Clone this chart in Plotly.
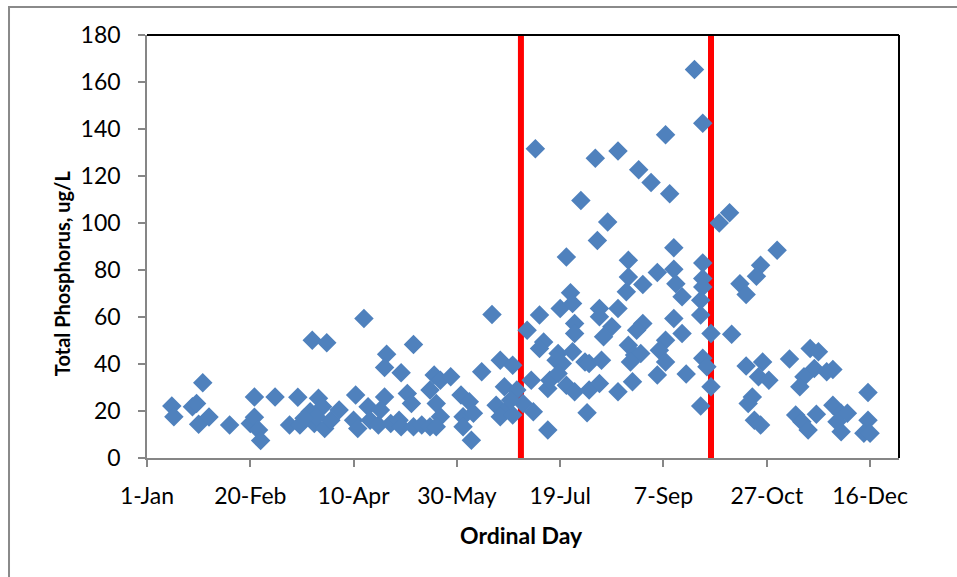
import plotly.graph_objects as go

# Sampling day of year (1 = 1-Jan) and total phosphorus (ug/L)
day = [
    13, 14, 28, 23, 25, 26, 31, 41, 51, 53, 55, 56, 53, 63, 70, 74, 75, 81, 88,
    84, 80, 86, 82, 87, 90, 83, 77, 94,
    106, 168, 130, 117, 116, 124, 102, 101, 103, 108, 109, 113, 116, 114, 119,
    123, 124, 127, 129, 130, 134, 138, 140, 138, 143, 148, 141, 143, 141, 153,
    157, 154, 159, 154, 158, 163, 172, 178, 174, 170, 175, 172, 178, 180, 183, 185,
    204, 219, 224, 256, 234, 270, 248, 256, 234, 241, 233, 257, 260, 270, 270,
    269, 269, 206, 201, 207, 191, 208, 208, 220, 229, 220, 226, 222, 241, 238,
    256, 260, 274, 193, 191, 252, 249, 234, 237, 240, 200, 207, 199, 202, 213,
    215, 221, 235, 252, 248, 262, 270, 272, 274, 269, 187, 195, 196, 200, 204,
    208, 215, 220, 229, 236, 214, 195, 188, 177,
    189, 218, 229, 211, 239, 245, 254, 252, 266, 270, 278,
    283, 306, 298, 296, 288, 291, 284, 291, 299, 297, 302, 294, 292, 295, 298,
    312, 322, 326, 324, 319, 317, 333, 330, 350, 315, 318, 321, 325, 333, 337,
    340, 337, 335, 350, 348, 351,
]
phosphorus = [
    22.1, 17.6, 32.0, 21.8, 23.2, 14.4, 17.4, 14.0, 14.7, 17.3, 11.9, 7.4, 26.0,
    26.0, 14.0, 25.8, 14.0, 50.1, 49.0,
    25.4, 19.7, 21.8, 14.7, 12.6, 16.1, 17.6, 16.9, 20.4,
    59.4, 61.1, 48.3, 44.2, 38.5, 36.3, 26.8, 16.1, 12.6, 21.8, 16.1, 14.0, 26.0,
    20.4, 14.7, 16.1, 13.3, 27.5, 23.2, 13.3, 14.0, 13.3, 35.3, 28.9, 33.1, 34.6,
    23.2, 17.6, 13.3, 26.8, 23.9, 17.6, 19.0, 13.3, 7.6, 36.7, 41.6, 39.5, 30.3,
    22.5, 20.4, 17.6, 18.3, 28.9, 23.2, 54.4,
    85.5, 92.6, 100.4, 89.5, 84.1, 83.0, 78.9, 80.3, 77.0, 73.8, 70.7, 74.2,
    68.6, 76.4, 72.8, 67.1, 60.8, 70.3, 63.6, 65.7, 60.8, 57.2, 53.0, 63.6, 63.6,
    60.1, 55.8, 51.6, 57.2, 54.4, 59.4, 53.0, 53.0, 49.4, 46.6, 50.1, 45.9, 48.0,
    43.8, 44.5, 44.5, 45.2, 41.6, 40.2, 40.9, 40.2, 41.6, 40.9, 40.9, 35.3, 35.7,
    42.4, 38.8, 30.3, 22.1, 33.1, 29.6, 33.1, 36.0, 31.0, 28.2, 28.9, 31.7, 28.2,
    32.4, 19.3, 11.9, 19.7, 24.6,
    131.6, 127.6, 130.6, 109.6, 122.7, 117.2, 112.5, 137.6, 165.3, 142.5, 100.0,
    104.4, 88.4, 82.0, 77.3, 74.2, 69.6, 52.7, 39.1, 40.9, 34.6, 33.1, 26.0, 23.2,
    16.1, 14.0, 42.1, 46.6, 45.2, 38.1, 34.6, 30.3, 37.7, 36.7, 27.9, 18.3, 15.4,
    11.9, 18.6, 22.5, 19.0, 19.0, 11.2, 15.4, 16.1, 10.5, 10.5,
]

# Boundaries of the summer window (day of year)
season_bounds = [182, 274]

tick_days = [1, 51, 101, 151, 201, 251, 301, 351]
tick_labels = ["1-Jan", "20-Feb", "10-Apr", "30-May", "19-Jul", "7-Sep", "27-Oct", "16-Dec"]

fig = go.Figure()

for b in season_bounds:
    fig.add_trace(go.Scatter(
        x=[b, b], y=[0, 180], mode="lines",
        line=dict(color="#FF0000", width=6),
        hoverinfo="skip", showlegend=False,
    ))

fig.add_trace(go.Scatter(
    x=day, y=phosphorus, mode="markers",
    marker=dict(symbol="diamond", size=15, color="#4F81BD", line=dict(width=0)),
    showlegend=False,
))

axis_grey = "#868686"
font_family = "Lato, Carlito, Calibri, sans-serif"
tick_font = dict(family=font_family, size=23, color="#000000")

fig.update_layout(
    width=957, height=577,
    margin=dict(l=147, r=58, t=35, b=119),
    paper_bgcolor="white", plot_bgcolor="white",
    xaxis=dict(
        range=[1, 365], tickmode="array", tickvals=tick_days, ticktext=tick_labels,
        showgrid=False, zeroline=False, showline=True, linecolor=axis_grey, linewidth=1.5,
        ticks="outside", ticklen=7, tickcolor=axis_grey, tickwidth=1.5,
        tickfont=tick_font, ticklabelstandoff=10,
    ),
    yaxis=dict(
        range=[0, 180], dtick=20,
        showgrid=False, zeroline=False, showline=True, linecolor=axis_grey, linewidth=1.5,
        ticks="outside", ticklen=7, tickcolor=axis_grey, tickwidth=1.5,
        tickfont=tick_font, ticklabelstandoff=13,
    ),
    annotations=[
        dict(text="<b>Ordinal Day</b>", xref="paper", yref="paper",
             x=0.4986, y=-0.182, xanchor="center", yanchor="middle", showarrow=False,
             font=dict(family=font_family, size=23, color="#000000")),
        dict(text="<b>Total Phosphorus, ug/L</b>", xref="paper", yref="paper",
             x=-0.113, y=0.437, xanchor="center", yanchor="middle", showarrow=False,
             textangle=-90, font=dict(family=font_family, size=20, color="#000000")),
    ],
    shapes=[
        # plot-area frame on the top and right
        dict(type="line", xref="paper", yref="paper", x0=0, x1=1, y0=1, y1=1,
             line=dict(color="#000000", width=2)),
        dict(type="line", xref="paper", yref="paper", x0=1, x1=1, y0=0, y1=1,
             line=dict(color="#000000", width=2)),
        # chart-area border
        dict(type="rect", xref="paper", yref="paper", x0=-0.1835, x1=1.2, y0=-0.4, y1=1.066,
             line=dict(color="#8A8A8A", width=2), fillcolor="rgba(0,0,0,0)"),
    ],
)

fig.write_html("out.html")
